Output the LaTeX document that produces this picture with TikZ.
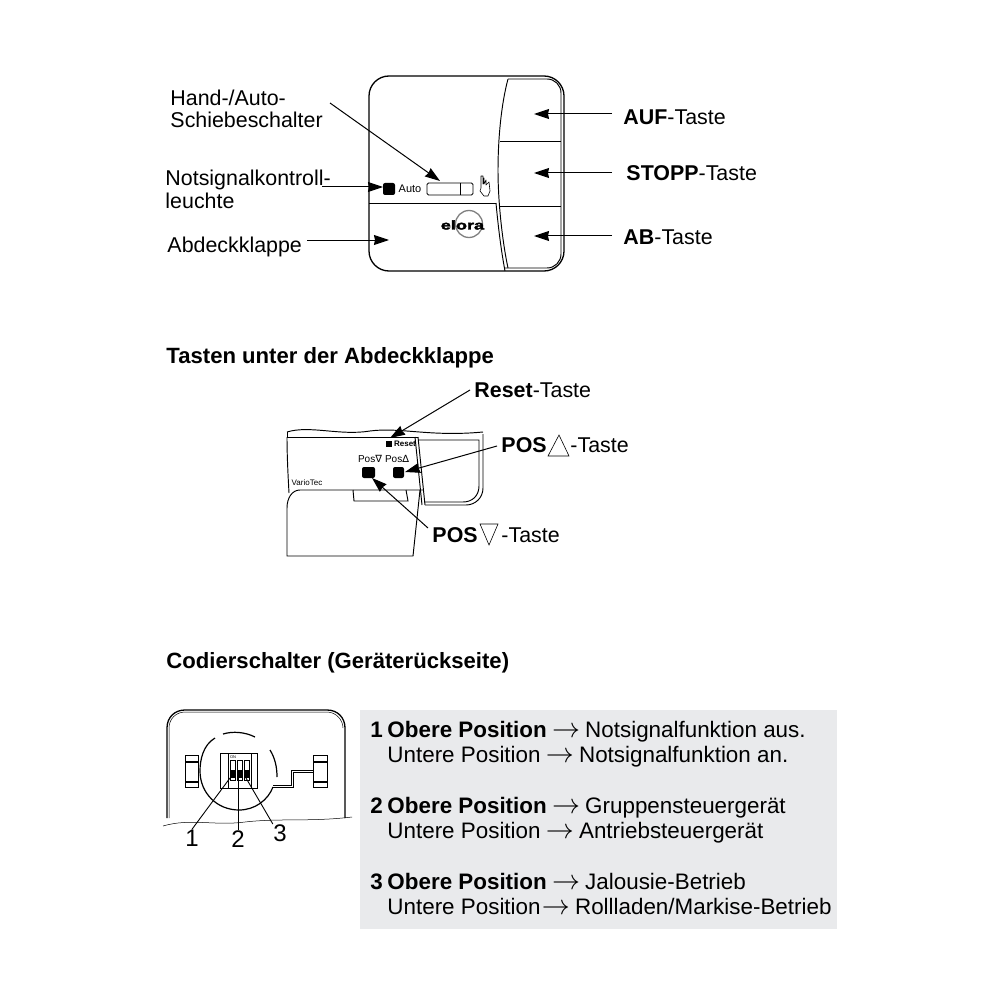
\documentclass[tikz,border=0pt]{standalone}
\usepackage{fontspec}
\usepackage{graphicx}
\setmainfont{Liberation Sans}
\newfontfamily\symfont{DejaVu Sans}
\newfontfamily\logofont[FakeBold=3,FakeStretch=1.45]{Liberation Sans Bold}
\usetikzlibrary{arrows.meta}
\tikzset{
  lbl/.style={anchor=base west,inner sep=0pt,font=\fontsize{21.4}{24}\selectfont},
  rowtxt/.style={anchor=base west,inner sep=0pt,font=\fontsize{22.4}{24}\selectfont},
  headtxt/.style={anchor=base west,inner sep=0pt,font=\fontsize{22.1}{24}\selectfont\bfseries},
  tinytxt/.style={inner sep=0pt,font=\fontsize{9}{10}\selectfont},
  numtxt/.style={inner sep=0pt,font=\fontsize{24}{24}\selectfont},
  conn/.style={line width=1pt,-{Stealth[length=15pt,width=10pt,inset=1pt]}},
  numline/.style={line width=0.9pt},
  btn/.style={fill=black,rounded corners=2pt}
}
\definecolor{boxgray}{HTML}{E9EAEC}
\newcommand{\toarrow}{\hspace{-1pt}\resizebox{28pt}{!}{$\rightarrow$}\hspace{-1pt}}
\begin{document}
\begin{tikzpicture}[x=1pt,y=-1pt,line width=0.95pt]
  \useasboundingbox (0,0) rectangle (1000,1000);
  % top unit
  \draw[line width=1.3pt,rounded corners=20pt] (369,76) rectangle (564,271);
  \draw[rounded corners=14pt] (505,268) -- (561,268) -- (561,79) -- (508,79);
  \draw (508,79) .. controls (501,105) and (498,140) .. (498,170) .. controls (498,205) and (503,245) .. (508,268);
  \draw (496,203) .. controls (498,225) and (501,250) .. (505,271);
  \draw (500,141) -- (561,141);
  \draw (500,206) -- (561,206);
  \draw (369,203) -- (496,203);
  \draw[rounded corners=1.5pt] (427,183) rectangle (473,195);
  \draw (460,183) -- (460,195);
  \coordinate (slider) at (440,181);
  \fill[btn] (383,183) rectangle (395,195);
  \coordinate (led) at (383,187);
  \node[tinytxt,font=\fontsize{11}{12}\selectfont] (auto) at (410,189) {Auto};
  % hand
  \draw[line width=0.6pt,line join=round] (484,196) -- (480,191) -- (481,188) -- (481,176) -- (483,176) -- (483,184) -- (484,178) -- (484,184) -- (486,180) -- (486,185) -- (489,182) -- (490,191) -- (488,196) -- cycle;
  \node[draw=gray,line width=1.3pt,circle,minimum size=27pt,inner sep=0pt] (ring) at (469,224) {};
  \node[inner sep=0pt,font=\fontsize{12.5}{13}\logofont] (logo) at (462.5,225) {elora};
  \coordinate (flap) at (389,240);
  \coordinate (aufbtn) at (534,114);
  \coordinate (stoppbtn) at (534,173);
  \coordinate (abbtn) at (534,236);
  \node[lbl] (hand) at (170,105.5) {Hand-/Auto-};
  \node[lbl] (schieb) at (170,128) {Schiebeschalter};
  \node[lbl] (not) at (165,186) {Notsignalkontroll-};
  \node[lbl] (leuchte) at (165,209) {leuchte};
  \node[lbl] (abdeck) at (167,252) {Abdeckklappe};
  \node[lbl] (auf) at (623,125) {\textbf{AUF}-Taste};
  \node[lbl] (stopp) at (626,181) {\textbf{STOPP}-Taste};
  \node[lbl] (ab) at (623,244) {\textbf{AB}-Taste};
  \coordinate (handend) at (330,103);
  \coordinate (notend) at (322,187);
  \draw[conn] (handend) -- (slider);
  \draw[conn] (notend) -- (led);
  \draw[conn] (abdeck.east |- flap) ++(5,0) -- (flap);
  \draw[conn] (auf.west |- aufbtn) ++(-11,0) -- (aufbtn);
  \draw[conn] (auf.west |- stoppbtn) ++(-11,0) -- (stoppbtn);
  \draw[conn] (ab.west |- abbtn) ++(-11,0) -- (abbtn);
  % middle unit
  \node[headtxt] (head1) at (166,363) {Tasten unter der Abdeckklappe};
  \draw (287,432) .. controls (310,425) and (340,436) .. (370,431) .. controls (400,427) and (430,437) .. (483,432);
  \draw (287,432) -- (287,437) -- (418,437);
  \draw (287,437) .. controls (287,455) and (288,475) .. (289,493);
  \draw (287,508) .. controls (287,498) and (292,490) .. (300,490) -- (423,490);
  \draw (287,508) -- (287,556) -- (413,556) -- (420,490);
  \draw (418,437) -- (425,505);
  \draw (415,437) -- (422,505);
  \draw (353,490) -- (354,501) -- (408,501) -- (406,490);
  \draw (483,434) -- (483,488) .. controls (483,498) and (475,505) .. (466,505) -- (425,505);
  \draw (418,440) -- (479,440) -- (479,486) .. controls (479,496) and (472,502) .. (463,502) -- (424,502);
  \fill (386,441) rectangle (392,447);
  \coordinate (resetbtn) at (390,438);
  \node[tinytxt,font=\fontsize{8}{9}\selectfont\bfseries] (resettxt) at (405,444) {Reset};
  \node[tinytxt,font=\fontsize{10}{12}\selectfont] (poslbl1) at (370,459) {Pos{\symfont∇}};
  \node[tinytxt,font=\fontsize{10}{12}\selectfont] (poslbl2) at (397,459) {Pos{\symfont∆}};
  \node[tinytxt,font=\fontsize{8}{9}\selectfont] (vario) at (307,483) {VarioTec};
  \fill[btn] (362,467) rectangle (375,478);
  \fill[btn] (393,467) rectangle (404,478);
  \coordinate (posupbtn) at (405,472);
  \coordinate (posdnbtn) at (372,478);
  \node[lbl] (resetlbl) at (474,397) {\textbf{Reset}-Taste};
  \node[lbl] (posup) at (501,452) {\textbf{POS}};
  \node[lbl] (posuptaste) at (570,452) {-Taste};
  \draw[line width=0.6pt] (548,456) -- (559,435) -- (569,456) -- cycle;
  \node[lbl] (posdn) at (432,542) {\textbf{POS}};
  \node[lbl] (posdntaste) at (501,542) {-Taste};
  \draw[line width=0.6pt] (480,524) -- (498,524) -- (489,545) -- cycle;
  \coordinate (resetend) at (470,390);
  \coordinate (posupend) at (497,446);
  \coordinate (posdnend) at (428,528);
  \draw[conn] (resetend) -- (resetbtn);
  \draw[conn] (posupend) -- (posupbtn);
  \draw[conn] (posdnend) -- (posdnbtn);
  % rear view
  \node[headtxt] (head2) at (166,668) {Codierschalter (Geräterückseite)};
  \draw[line width=1.3pt] (167,818) -- (167,728) .. controls (167,717) and (175,710) .. (185,710) -- (327,710) .. controls (338,710) and (345,718) .. (345,728) -- (345,818);
  \draw[line width=0.5pt] (169,818) -- (169,728) .. controls (169,719) and (176,712) .. (185,712) -- (327,712) .. controls (336,712) and (343,720) .. (343,728);
  \draw[line width=0.5pt] (163,826) .. controls (190,818) and (215,826) .. (245,822) .. controls (280,818) and (310,822) .. (352,817);
  \draw[line width=1.2pt] (215,738) .. controls (203,745) and (200,760) .. (200,771) .. controls (200,793) and (217,810) .. (239,810) .. controls (255,810) and (268,800) .. (273,787);
  \draw[line width=1.2pt] (223,734) .. controls (233,731) and (245,732) .. (255,737);
  \draw[line width=1.2pt] (270,750) .. controls (275,758) and (277,767) .. (277,777);
  \draw[line width=0.6pt] (185,755) rectangle (198,787);
  \draw[line width=0.6pt] (313,755) rectangle (327,787);
  \draw[line width=1.4pt] (185,762) -- (198,762) (185,782) -- (198,782) (313,762) -- (327,762) (313,782) -- (327,782);
  \draw[line width=0.6pt] (273,787) -- (293,787) -- (293,772) -- (313,772);
  \draw[line width=0.6pt] (273,785) -- (291,785) -- (291,770) -- (313,770);
  % dip switch
  \draw[line width=0.7pt] (220,753) rectangle (257,788);
  \draw[line width=0.7pt] (228,753) -- (228,788) (251,753) -- (251,788);
  \foreach \xa in {230,237,244}{
    \draw[line width=0.5pt] (\xa,760) rectangle +(5,20);
    \fill (\xa,770) rectangle +(5,8);
  }
  \node[inner sep=0pt,font=\fontsize{4}{5}\selectfont] (dip) at (233,757) {ON};
  \coordinate (dipa) at (230,778);
  \coordinate (dipb) at (238,778);
  \coordinate (dipc) at (246,778);
  \node[numtxt] (one) at (192,838) {1};
  \node[numtxt] (two) at (238,839) {2};
  \node[numtxt] (three) at (280,833) {3};
  \draw[numline] (dipa) -- (one.north);
  \draw[numline] (dipb) -- (two.north);
  \draw[numline] (dipc) -- (three.north west);
  % text box
  \fill[boxgray] (360,710) rectangle (837,929);
  \node[rowtxt] (na) at (370,737) {\textbf{1}};
  \node[rowtxt] (ra) at (387,737) {\textbf{Obere Position} \toarrow{} Notsignalfunktion aus.};
  \node[rowtxt] (rb) at (387,762) {Untere Position \toarrow{} Notsignalfunktion an.};
  \node[rowtxt] (nb) at (370,813) {\textbf{2}};
  \node[rowtxt] (rc) at (387,813) {\textbf{Obere Position} \toarrow{} Gruppensteuergerät};
  \node[rowtxt] (rd) at (387,838) {Untere Position \toarrow{} Antriebsteuergerät};
  \node[rowtxt] (nc) at (370,889) {\textbf{3}};
  \node[rowtxt] (re) at (387,889) {\textbf{Obere Position} \toarrow{} Jalousie-Betrieb};
  \node[rowtxt] (rf) at (387,914) {Untere Position\hspace{-4pt} \toarrow{} Rollladen/Markise-Betrieb};
\end{tikzpicture}
\end{document}
